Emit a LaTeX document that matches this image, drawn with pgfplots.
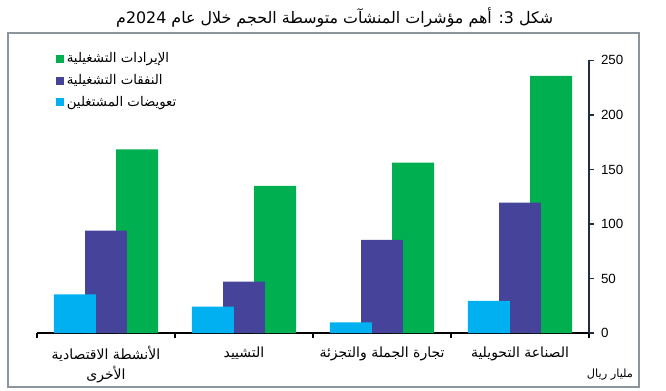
\documentclass[border=0pt]{standalone}
\usepackage{fontspec}
\usepackage{pgfplots}
\pgfplotsset{compat=1.18}
\setmainfont{Liberation Sans}
\newfontfamily\arabicfont[Script=Arabic]{DejaVu Sans}
\TeXXeTstate=1
\definecolor{cgreen}{HTML}{00B050}
\definecolor{cpurple}{HTML}{46449A}
\definecolor{cblue}{HTML}{00B0F0}
\definecolor{axisnavy}{HTML}{1F2E43}
\definecolor{framegray}{HTML}{8C949C}
\begin{document}
\begin{tikzpicture}
\useasboundingbox (0,0) rectangle (499.5pt,292.5pt);
\draw[framegray, line width=0.9pt] (6pt,2.25pt) rectangle (479.25pt,267.75pt);
\node[font=\arabicfont\fontsize{11.9}{14}\selectfont] at (251pt,279pt) {\beginR شكل \beginL 3\endL: أهم مؤشرات المنشآت متوسطة الحجم خلال عام \beginL 2024\endL{}م\endR};
\node[font=\arabicfont\fontsize{8.5}{10}\selectfont] at (457.5pt,11.5pt) {\beginR مليار ريال\endR};
\begin{axis}[
  at={(27.75pt,42.75pt)}, anchor=south west,
  scale only axis, width=414pt, height=204.45pt,
  xmin=-0.5, xmax=3.5, ymin=0, ymax=250,
  axis x line*=bottom, axis y line*=right,
  x axis line style={black, line width=1.2pt},
  y axis line style={axisnavy, line width=1.2pt},
  tick align=outside,
  xtick={0,1,2,3},
  xticklabels={{\beginR الأنشطة الاقتصادية\endR\\\beginR الأخرى\endR},{\beginR التشييد\endR},{\beginR تجارة الجملة والتجزئة\endR},{\beginR الصناعة التحويلية\endR}},
  xticklabel style={font=\arabicfont\fontsize{10.5}{15}\selectfont, align=center, yshift=-3pt},
  major x tick style={draw=none},
  minor xtick={-0.5,0.5,1.5,2.5,3.5},
  minor x tick style={black, line width=1pt},
  minor tick length=4pt,
  ytick={0,50,100,150,200,250},
  major y tick style={axisnavy, line width=1pt},
  major tick length=3.5pt,
  yticklabel style={font=\fontsize{10}{12}\selectfont, xshift=2pt},
  /pgf/number format/assume math mode=true,
  legend style={at={(0.027,1.049)}, anchor=north west, draw=none, fill=none,
    font=\arabicfont\fontsize{10}{12}\selectfont, row sep=3.25pt},
  legend cell align=left,
  legend image code/.code={\fill[#1] (-1.5pt,-3pt) rectangle (4.5pt,3pt);},
  clip=false,
]
\addplot[ybar, bar width=0.304, bar shift=0.225, fill=cgreen, draw=none]
  coordinates {(0,168.5) (1,134.9) (2,156.2) (3,235.8)};
\addlegendentry{\beginR الإيرادات التشغيلية\endR}
\addplot[ybar, bar width=0.304, bar shift=0, fill=cpurple, draw=none]
  coordinates {(0,93.9) (1,47.1) (2,85.3) (3,119.5)};
\addlegendentry{\beginR النفقات التشغيلية\endR}
\addplot[ybar, bar width=0.304, bar shift=-0.225, fill=cblue, draw=none]
  coordinates {(0,35.5) (1,24.1) (2,9.8) (3,29.4)};
\addlegendentry{\beginR تعويضات المشتغلين\endR}
\end{axis}
\end{tikzpicture}
\end{document}
